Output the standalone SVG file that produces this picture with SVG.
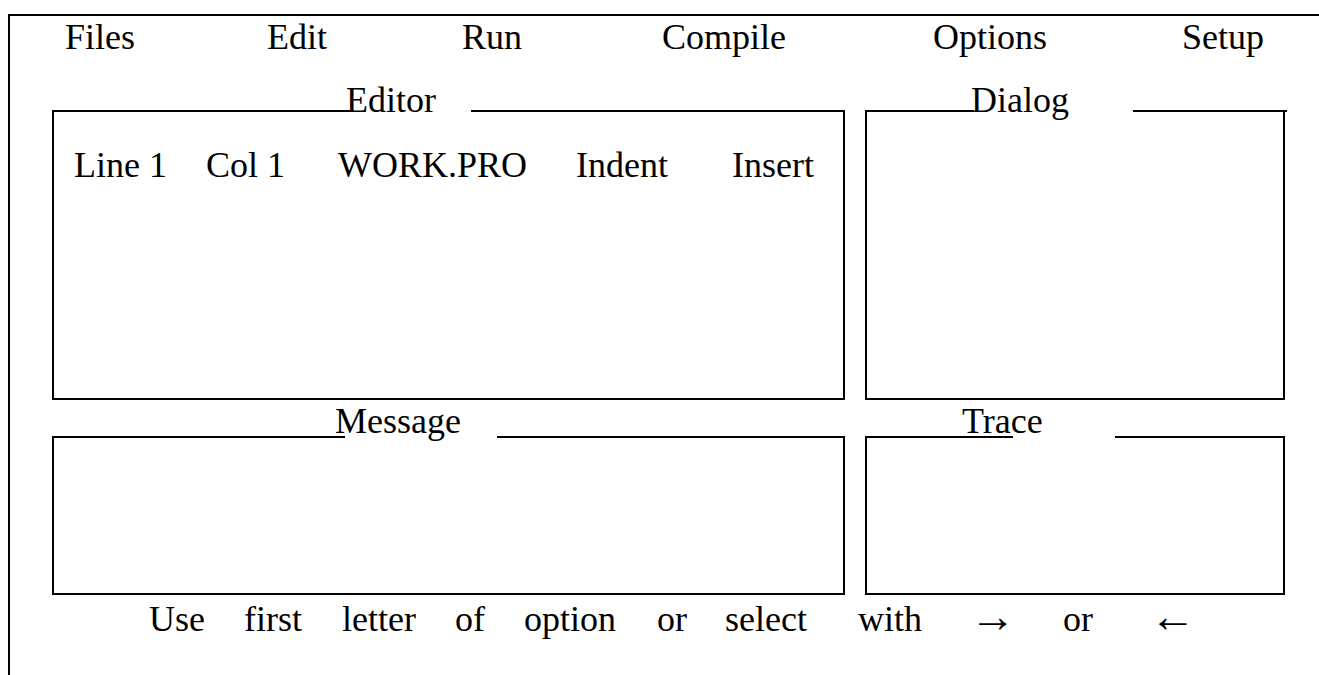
<svg xmlns="http://www.w3.org/2000/svg" width="1319" height="675" viewBox="0 0 1319 675">
<style>
text{font-family:"Liberation Serif","Times New Roman",serif;font-size:36px;fill:#000}
text.arr{font-size:46px}
.ln{stroke:#000;stroke-width:2;fill:none}
</style>
<rect width="1319" height="675" fill="#fff"/>
<g id="frame">
<path class="ln" d="M9,675 V15 H1319"/>
</g>
<g id="menu">
<text x="65" y="49">Files</text>
<text x="267" y="49">Edit</text>
<text x="462" y="49">Run</text>
<text x="662" y="49">Compile</text>
<text x="933" y="49">Options</text>
<text x="1182" y="49">Setup</text>
</g>
<g id="editor">
<path class="ln" d="M350,111 H53 V399 H844 V111 H471"/>
<text x="346" y="112">Editor</text>
<text x="74" y="177">Line 1</text>
<text x="206" y="177">Col 1</text>
<text x="338" y="177">WORK.PRO</text>
<text x="576" y="177">Indent</text>
<text x="732" y="177">Insert</text>
</g>
<g id="dialog">
<path class="ln" d="M974,111 H866 V399 H1284 V111 H1133 M1284,111 H1287"/>
<text x="971" y="112">Dialog</text>
</g>
<g id="message">
<path class="ln" d="M345,437 H53 V594 H844 V437 H497"/>
<text x="335" y="433">Message</text>
</g>
<g id="trace">
<path class="ln" d="M1013,437 H866 V594 H1284 V437 H1115"/>
<text x="962" y="433">Trace</text>
</g>
<g id="status">
<text x="149" y="631">Use</text>
<text x="244" y="631">first</text>
<text x="342" y="631">letter</text>
<text x="455" y="631">of</text>
<text x="524" y="631">option</text>
<text x="657" y="631">or</text>
<text x="725" y="631">select</text>
<text x="858" y="631">with</text>
<text class="arr" x="970" y="632">→</text>
<text x="1063" y="631">or</text>
<text class="arr" x="1150" y="632">←</text>
</g>
</svg>
